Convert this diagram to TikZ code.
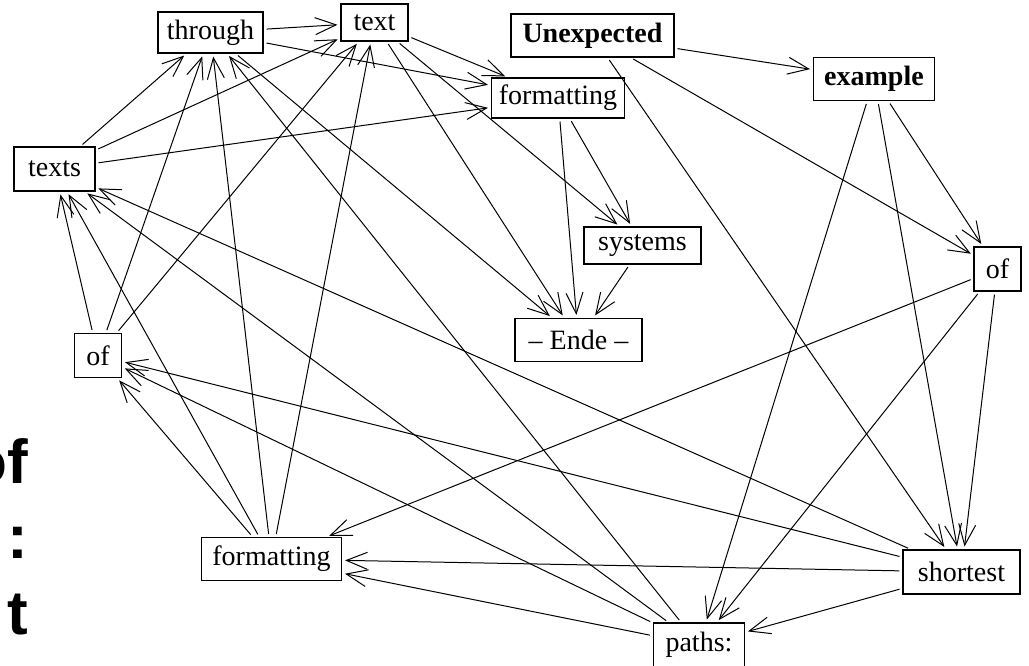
\documentclass[tikz,border=0pt]{standalone}
\usepackage{fontspec}
\setmainfont{Liberation Serif}
\newfontfamily\headfont{Liberation Sans}
\usetikzlibrary{arrows.meta}
\begin{document}
\begin{tikzpicture}[x=1pt,y=-1pt,
  vbox/.style={draw=black, line width=1.1pt, fill=white, inner sep=0pt,
    font=\fontsize{28}{30}\selectfont},
  edge/.style={line width=1pt,
    -{Straight Barb[length=21pt,width=17pt,line width=1pt]},
    shorten >=3pt, shorten <=3pt},
  big/.style={font=\headfont\bfseries\fontsize{62}{62}\selectfont,
    inner sep=0pt, anchor=base east}]
\useasboundingbox (0,0) rectangle (1029,666);
\clip (0,0) rectangle (1029,666);

% large heading, running off the left edge
\node[big] (h1) at (28,483) {of};
\node[big] (h2) at (28,558) {:};
\node[big] (h3) at (28,634) {t};

% vertices
\node[vbox, minimum width=105pt, minimum height=41pt] (thr)   at (210.5,32.5) {through};
\node[vbox, minimum width=67pt,  minimum height=37pt] (txt)   at (374.5,22.5) {text};
\node[vbox, minimum width=163pt, minimum height=43pt] (une)   at (592.5,35.5) {\bfseries Unexpected};
\node[vbox, minimum width=121pt, minimum height=43pt] (exa)   at (874,79) {\bfseries example};
\node[vbox, minimum width=133pt, minimum height=40pt] (fmta)  at (558,98) {formatting};
\node[vbox, minimum width=81pt,  minimum height=44pt] (texts) at (54.5,169) {texts};
\node[vbox, minimum width=117pt, minimum height=37pt] (sys)   at (642.5,245.5) {systems};
\node[vbox, minimum width=47pt,  minimum height=44pt] (ofr)   at (997.5,269) {of};
\node[vbox, minimum width=127pt, minimum height=43pt] (ende)  at (578.5,340) {-- Ende --};
\node[vbox, minimum width=47pt,  minimum height=44pt] (ofl)   at (98,355.5) {of};
\node[vbox, minimum width=140pt, minimum height=43pt] (fmtb)  at (271.5,559) {formatting};
\node[vbox, minimum width=117pt, minimum height=44pt] (sho)   at (961.5,572) {shortest};
\node[vbox, minimum width=91pt,  minimum height=44pt] (pat)   at (699,645) {paths:};

% connectors
\foreach \a/\b in {
  thr/txt, thr/fmta, thr/ende,
  txt/fmta, txt/sys, txt/ende,
  une/exa, une/ofr, une/sho,
  exa/ofr, exa/sho, exa/pat,
  fmta/sys, fmta/ende, sys/ende,
  texts/thr, texts/txt, texts/fmta,
  ofl/texts, ofl/thr, ofl/txt,
  fmtb/ofl, fmtb/texts, fmtb/thr, fmtb/txt,
  ofr/sho, ofr/pat, ofr/fmtb,
  sho/pat, sho/fmtb, sho/ofl, sho/texts,
  pat/fmtb, pat/ofl, pat/texts, pat/thr}
  \draw[edge] (\a) -- (\b);
\end{tikzpicture}
\end{document}
